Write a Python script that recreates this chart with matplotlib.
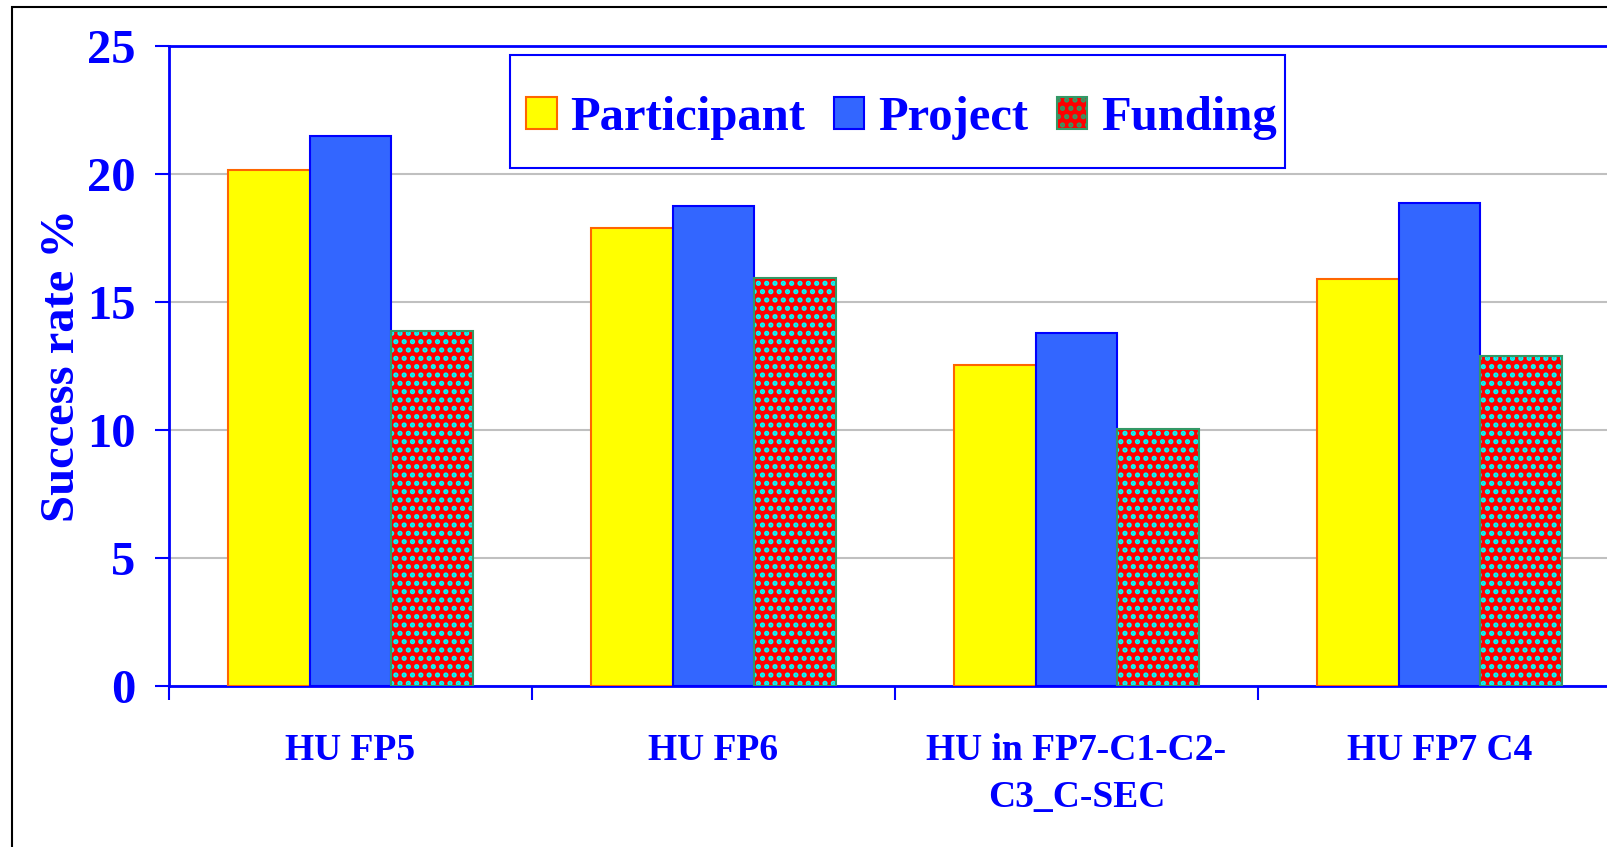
import numpy as np
import matplotlib
matplotlib.use('Agg')
import matplotlib.pyplot as plt
from matplotlib.patches import Rectangle, Patch

plt.rcParams['font.family'] = ['Liberation Serif', 'DejaVu Serif']
plt.rcParams['font.weight'] = 'bold'
plt.rcParams['hatch.linewidth'] = 2.5

categories = ['HU FP5', 'HU FP6', 'HU in FP7-C1-C2-\nC3_C-SEC', 'HU FP7 C4']
participant = [20.15, 17.9, 12.55, 15.9]
project = [21.5, 18.75, 13.8, 18.85]
funding = [13.85, 15.95, 10.05, 12.9]

blue_txt = '#0000FF'

fig = plt.figure(figsize=(16.08, 8.47), dpi=100)
# outer chart border
fig.patches.append(Rectangle((12 / 1608, -0.1), 1.2, 1 - 7 / 847 + 0.1,
                             transform=fig.transFigure, fill=False,
                             edgecolor='black', linewidth=1.5))

ax = fig.add_axes([169 / 1608, 1 - 686 / 847, (1621 - 169) / 1608, (686 - 46) / 847])

x = np.arange(len(categories))
w = 0.225

ax.bar(x - w, participant, w, color='#FFFF00', edgecolor='#FF6600', linewidth=1.5, zorder=3)
ax.bar(x, project, w, color='#3366FF', edgecolor='#0000FF', linewidth=1.5, zorder=3)
ax.bar(x + w, funding, w, color='#FF0000', edgecolor='#00FFFF', linewidth=0,
       hatch='..', zorder=3)
ax.bar(x + w, funding, w, fill=False, edgecolor='#339966', linewidth=1.5, zorder=4)

ax.set_xlim(-0.5, 3.5)
ax.set_ylim(0, 25)
ax.set_yticks([0, 5, 10, 15, 20, 25])
ax.yaxis.grid(True, color='#C0C0C0', linewidth=1.5, zorder=0)
ax.set_axisbelow(True)

ax.set_xticks(x)
ax.set_xticklabels(categories, fontsize=27, color=blue_txt, fontweight='bold', linespacing=1.45)
ax.set_xticks(np.arange(-0.5, 4, 1), minor=True)
ax.tick_params(axis='x', which='major', length=0, pad=34)
ax.tick_params(axis='x', which='minor', length=10, width=1.5, color=blue_txt, direction='out')
ax.tick_params(axis='y', length=10, width=1.5, color=blue_txt, pad=14, labelsize=35,
               labelcolor=blue_txt)
for lbl in ax.get_yticklabels():
    lbl.set_fontweight('bold')

for s in ['left', 'bottom', 'top']:
    ax.spines[s].set_color(blue_txt)
    ax.spines[s].set_linewidth(2)
ax.spines['right'].set_visible(False)

ax.set_ylabel('Success rate %', fontsize=35, color=blue_txt, fontweight='bold', labelpad=2)

# legend box
fig.patches.append(Rectangle((510 / 1608, 1 - 168 / 847), 775 / 1608, 113 / 847,
                             transform=fig.transFigure, facecolor='white',
                             edgecolor=blue_txt, linewidth=1.5, zorder=5))

handles = [
    Patch(facecolor='#FFFF00', edgecolor='#FF6600', linewidth=1.5),
    Patch(facecolor='#3366FF', edgecolor='#0000FF', linewidth=1.5),
    Patch(facecolor='#FF0000', edgecolor='#339966', hatch='..', linewidth=1.5),
]
leg = fig.legend(handles, ['Participant', 'Project', 'Funding'], ncol=3,
                 loc='center', bbox_to_anchor=((514 + 775 / 2) / 1608, 1 - 118 / 847),
                 prop={'family': 'Liberation Serif', 'weight': 'bold', 'size': 35},
                 labelcolor=blue_txt, frameon=False,
                 handlelength=0.62, handleheight=0.64, handletextpad=0.28,
                 columnspacing=0.6, borderpad=0, borderaxespad=0)
leg.set_zorder(6)

fig.savefig('out.png', dpi=100)
